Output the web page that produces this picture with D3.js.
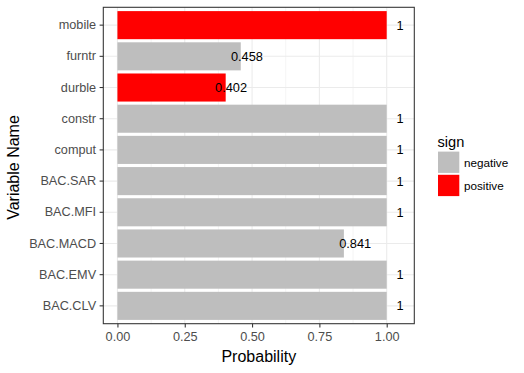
<html><head>
<meta charset="utf-8">
<script src="https://d3js.org/d3.v7.min.js"></script>
<style>
  body { margin: 0; background: #fff; }
  svg text { font-family: "Liberation Sans", Arial, sans-serif; }
</style>
</head>
<body>
<svg id="chart" width="524" height="373"></svg>
<script>
// data, top to bottom
let categories = ["mobile", "furntr", "durble", "constr", "comput", "BAC.SAR", "BAC.MFI", "BAC.MACD", "BAC.EMV", "BAC.CLV"];
let probs = [1, 0.458, 0.402, 1, 1, 1, 1, 0.841, 1, 1];
let signs = ["positive", "negative", "positive", "negative", "negative", "negative", "negative", "negative", "negative", "negative"];
let labels = ["1", "0.458", "0.402", "1", "1", "1", "1", "0.841", "1", "1"];
let xTicks = [0, 0.25, 0.5, 0.75, 1];
let xMinor = [0.125, 0.375, 0.625, 0.875];
let legendKeys = ["negative", "positive"];
let legendColors = ["#BEBEBE", "#FF0000"];

let svg = d3.select("#chart");

let panel = {left: 103.3, right: 414.3, top: 7.3, bottom: 323.7};

// ggplot-ish expansion: text sits at value*1.05, then 5% each side
let x = d3.scaleLinear().domain([-0.0525, 1.1025]).range([panel.left, panel.right]);
let y = d3.scaleBand().domain(categories).range([panel.top, panel.bottom])
  .paddingInner(0.1).paddingOuter(0.122);
let color = d3.scaleOrdinal().domain(legendKeys).range(legendColors);

let rows = categories.map((c, i) => ({cat: c, p: probs[i], sign: signs[i], lab: labels[i]}));

// grid
let g = svg.append("g");
g.selectAll("line.minor").data(xMinor).enter().append("line")
  .attr("x1", d => x(d)).attr("x2", d => x(d))
  .attr("y1", panel.top).attr("y2", panel.bottom)
  .style("stroke", "#EBEBEB").style("stroke-width", 0.55);
g.selectAll("line.vmaj").data(xTicks).enter().append("line")
  .attr("x1", d => x(d)).attr("x2", d => x(d))
  .attr("y1", panel.top).attr("y2", panel.bottom)
  .style("stroke", "#EBEBEB").style("stroke-width", 1.07);
g.selectAll("line.hmaj").data(categories).enter().append("line")
  .attr("x1", panel.left).attr("x2", panel.right)
  .attr("y1", d => y(d) + y.bandwidth() / 2).attr("y2", d => y(d) + y.bandwidth() / 2)
  .style("stroke", "#EBEBEB").style("stroke-width", 1.07);

// bars
svg.selectAll("rect.bar").data(rows).enter().append("rect")
  .attr("x", x(0))
  .attr("y", d => y(d.cat))
  .attr("width", d => x(d.p) - x(0))
  .attr("height", y.bandwidth())
  .style("fill", d => color(d.sign));

// value labels
svg.selectAll("text.val").data(rows).enter().append("text")
  .attr("x", d => x(d.p * 1.05))
  .attr("y", d => y(d.cat) + y.bandwidth() / 2)
  .attr("text-anchor", "middle")
  .attr("dominant-baseline", "central")
  .style("font-size", "12.8px")
  .style("fill", "#000")
  .text(d => d.lab);

// panel border
svg.append("rect")
  .attr("x", panel.left).attr("y", panel.top)
  .attr("width", panel.right - panel.left).attr("height", panel.bottom - panel.top)
  .style("fill", "none").style("stroke", "#333333").style("stroke-width", 1.07);

// x axis
let xAxis = d3.axisBottom(x).tickValues(xTicks).tickFormat(d3.format(".2f")).tickSize(3.7).tickPadding(5);
let xg = svg.append("g").attr("transform", `translate(0,${panel.bottom})`).call(xAxis);
xg.select(".domain").remove();
xg.selectAll(".tick line").style("stroke", "#333333").style("stroke-width", 1.07);
xg.selectAll(".tick text").style("font-size", "12.7px").style("fill", "#4D4D4D")
  .style("font-family", "Liberation Sans, Arial, sans-serif");

// y axis
let yAxis = d3.axisLeft(y).tickSize(3.7).tickPadding(3.5);
let yg = svg.append("g").attr("transform", `translate(${panel.left},0)`).call(yAxis);
yg.select(".domain").remove();
yg.selectAll(".tick line").style("stroke", "#333333").style("stroke-width", 1.07);
yg.selectAll(".tick text").style("font-size", "12.7px").style("fill", "#4D4D4D")
  .style("font-family", "Liberation Sans, Arial, sans-serif");

// axis titles
svg.append("text")
  .attr("x", (panel.left + panel.right) / 2).attr("y", 362)
  .attr("text-anchor", "middle")
  .style("font-size", "16px").style("fill", "#000")
  .text("Probability");
svg.append("text")
  .attr("transform", `translate(19,${(panel.top + panel.bottom) / 2 + 2}) rotate(-90)`)
  .attr("text-anchor", "middle")
  .style("font-size", "16px").style("fill", "#000")
  .text("Variable Name");

// legend
let leg = svg.append("g").attr("transform", "translate(437.5,0)");
leg.append("text").attr("x", 0).attr("y", 146.7)
  .style("font-size", "14.6px").style("fill", "#000").text("sign");
leg.selectAll("rect").data(legendKeys).enter().append("rect")
  .attr("x", 0.5).attr("y", (d, i) => 151.6 + i * 23.2)
  .attr("width", 21.3).attr("height", 21.3)
  .style("fill", d => color(d));
leg.selectAll("text.lab").data(legendKeys).enter().append("text")
  .attr("x", 26.5).attr("y", (d, i) => 162.3 + i * 23.2)
  .attr("dominant-baseline", "central")
  .style("font-size", "11.7px").style("fill", "#000")
  .text(d => d);
</script>
</body>
</html>
